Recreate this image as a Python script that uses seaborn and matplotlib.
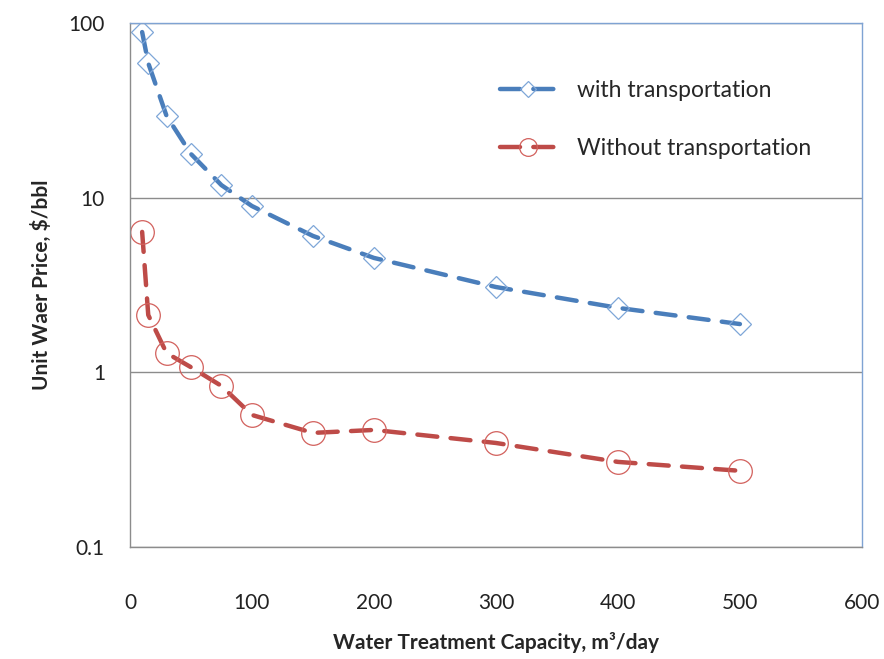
import matplotlib
matplotlib.use("Agg")
import matplotlib.pyplot as plt
import seaborn as sns
import pandas as pd

capacity = [10, 15, 30, 50, 75, 100, 150, 200, 300, 400, 500]
with_transport = [88.8, 59, 29.4, 17.8, 11.8, 8.96, 6.04, 4.52, 3.08, 2.34, 1.89]
without_transport = [6.37, 2.13, 1.29, 1.07, 0.836, 0.57, 0.45, 0.468, 0.394, 0.307, 0.273]
series_names = ["with transportation", "Without transportation"]
x_ticks = [0, 100, 200, 300, 400, 500, 600]
y_ticks = [0.1, 1, 10, 100]
y_tick_labels = ["0.1", "1", "10", "100"]

sns.set_style("white")
plt.rcParams["font.family"] = ["Lato", "DejaVu Sans"]

df = pd.DataFrame({
    "capacity": capacity * 2,
    "price": with_transport + without_transport,
    "series": [series_names[0]] * len(capacity) + [series_names[1]] * len(capacity),
})

fig = plt.figure(figsize=(8.84, 6.59), dpi=100)
ax = fig.add_axes([0.147, 0.170, 0.828, 0.795])

blue = "#4A7EBB"
red = "#BE4B48"
styles = {
    series_names[0]: dict(color=blue, marker="D", markersize=11.5, mec="#7EA6D8"),
    series_names[1]: dict(color=red, marker="o", markersize=17, mec="#D2605C"),
}
for name in series_names:
    st = styles[name]
    sub = df[df["series"] == name]
    sns.lineplot(data=sub, x="capacity", y="price", ax=ax, color=st["color"],
                 linewidth=3.2, dashes=False, marker=st["marker"],
                 markersize=st["markersize"], markerfacecolor="none",
                 markeredgecolor=st["mec"], markeredgewidth=0.9, label=name)
for line in ax.get_lines():
    line.set_dashes((4.5, 3.0))
    line.set_dash_capstyle("round")

ax.set_yscale("log")
ax.set_xlim(0, 600)
ax.set_ylim(0.1, 100)
ax.set_xticks(x_ticks)
ax.set_xticklabels([str(v) for v in x_ticks])
ax.set_yticks(y_ticks)
ax.set_yticklabels(y_tick_labels)
ax.yaxis.set_minor_locator(matplotlib.ticker.NullLocator())
ax.tick_params(axis="both", length=0, labelsize=15, colors="#222222")
ax.tick_params(axis="x", pad=33)
ax.tick_params(axis="y", pad=18)
ax.yaxis.grid(True, color="#8C8C8C", linewidth=1.0)
ax.xaxis.grid(False)
for s in ["left", "bottom"]:
    ax.spines[s].set_color("#8C8C8C")
    ax.spines[s].set_linewidth(1.0)
for s in ["top", "right"]:
    ax.spines[s].set_color("#7FA3D3")
    ax.spines[s].set_linewidth(1.0)

ax.set_xlabel("Water Treatment Capacity, m³/day", fontsize=15, fontweight="bold", labelpad=14)
ax.set_ylabel("Unit Waer Price, $/bbl", fontsize=15, fontweight="bold", labelpad=12)

leg = ax.legend(loc="upper left", bbox_to_anchor=(0.478, 0.93), frameon=False,
                fontsize=16.5, handlelength=2.4, handletextpad=0.95, labelspacing=1.6,
                markerscale=0.75)
for h in leg.get_lines():
    h.set_dashes((4.5, 3.0))

fig.savefig("out.png", dpi=100)
